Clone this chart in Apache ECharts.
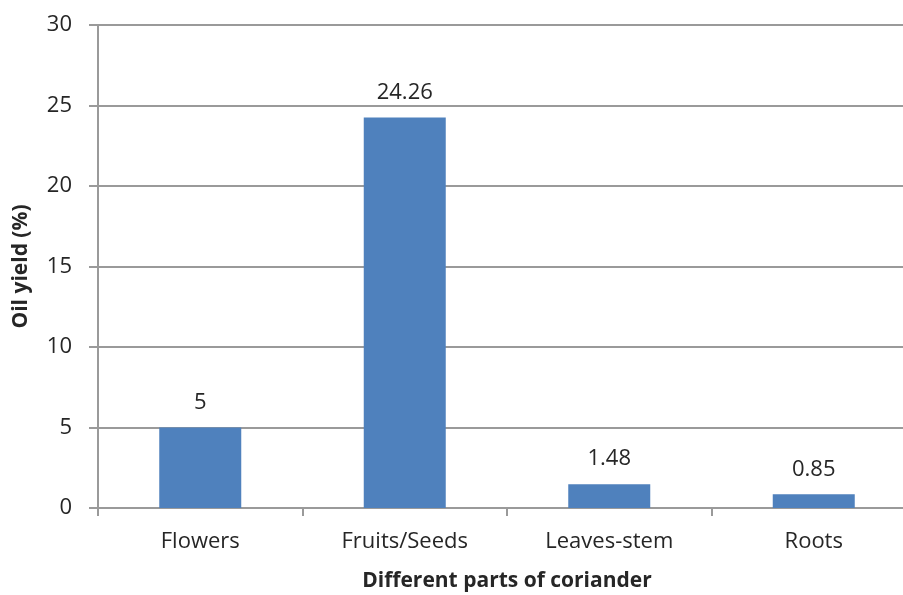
<!DOCTYPE html>
<html>
<head>
<meta charset="utf-8">
<script src="https://cdn.jsdelivr.net/npm/echarts@6/dist/echarts.min.js"></script>
<style>
	html, body { margin: 0; padding: 0; background: #fff; }
	#chart { width: 903px; height: 595px; }
</style>
</head>
<body>
<div id="chart"></div>
<script>
	var categories = ['Flowers', 'Fruits/Seeds', 'Leaves-stem', 'Roots'];
	var oilYield = [5, 24.26, 1.48, 0.85];
	var yTicks = [0, 5, 10, 15, 20, 25, 30];

	var fontName = 'Open Sans';
	var textColor = '#262626';
	var gridColor = '#9a9a9a';

	var mychart = echarts.init(document.getElementById('chart'));
	var option = {
		animation: false,
		grid: {
			left: 98,
			right: -13,
			top: 25,
			bottom: 87,
			containLabel: false,
			outerBoundsMode: 'none'
		},
		xAxis: {
			type: 'category',
			data: categories,
			name: 'Different parts of coriander',
			nameLocation: 'middle',
			nameGap: 63,
			nameTextStyle: {
				fontFamily: fontName,
				fontSize: 21,
				fontWeight: 'bold',
				color: textColor
			},
			axisLine: { lineStyle: { color: gridColor, width: 2 } },
			axisTick: { show: true, length: 8, lineStyle: { color: gridColor, width: 2 } },
			axisLabel: {
				margin: 23,
				fontFamily: fontName,
				fontSize: 22,
				color: textColor
			}
		},
		yAxis: {
			type: 'value',
			min: yTicks[0],
			max: yTicks[yTicks.length - 1],
			interval: 5,
			name: 'Oil yield (%)',
			nameLocation: 'middle',
			nameGap: 66,
			nameRotate: 90,
			nameTextStyle: {
				fontFamily: fontName,
				fontSize: 21,
				fontWeight: 'bold',
				color: textColor
			},
			axisLine: { show: true, lineStyle: { color: gridColor, width: 2 } },
			axisTick: { show: true, length: 9, lineStyle: { color: gridColor, width: 2 } },
			axisLabel: {
				margin: 26,
				fontFamily: fontName,
				fontSize: 22,
				color: textColor
			},
			splitLine: { show: true, lineStyle: { color: gridColor, width: 2 } }
		},
		series: [{
			name: 'Oil yield',
			type: 'bar',
			data: oilYield,
			barWidth: 82,
			itemStyle: { color: '#4f81bd' },
			label: {
				show: true,
				position: 'top',
				distance: 14,
				fontFamily: fontName,
				fontSize: 22,
				color: textColor
			}
		}]
	};
	mychart.setOption(option);
</script>
</body>
</html>
